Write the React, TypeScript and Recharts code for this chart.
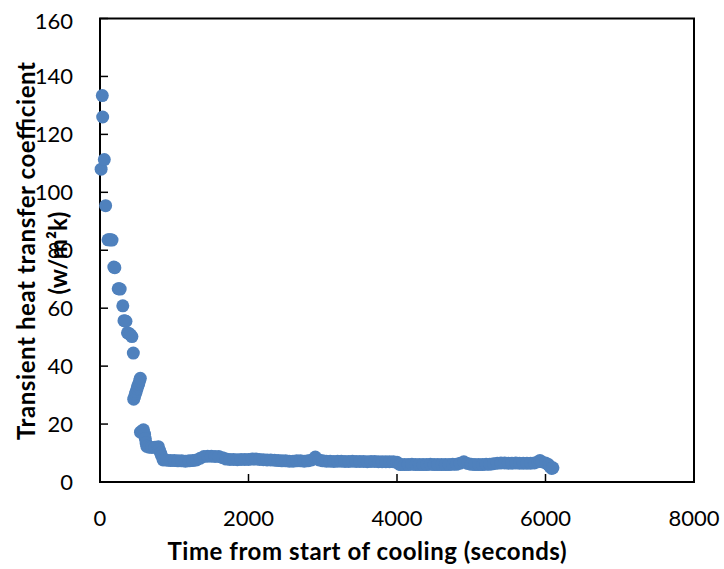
import React from 'react';
import { ScatterChart, Scatter, XAxis, YAxis, ReferenceArea, Customized } from 'recharts';

// time from start of cooling (s) and transient heat transfer coefficient (W/m2K)
const timeSeconds = [
  15, 31, 36, 58, 76, 108, 125, 145, 162, 186, 200, 245, 258, 272, 307, 323, 337, 350,
  370, 390, 410, 430, 449, 454, 466, 477, 488, 499, 510, 521, 532, 543,
  545, 565, 585, 600, 610, 620, 630, 660, 700, 740, 786, 800, 815, 830,
  850, 900, 950, 1000, 1050, 1100, 1150, 1200, 1250, 1300, 1350, 1400, 1450, 1500, 1550,
  1600, 1650, 1700, 1750, 1800, 1850, 1900, 1950, 2000, 2050, 2100, 2150, 2200, 2250,
  2300, 2350, 2400, 2450, 2500, 2550, 2600, 2650, 2700, 2750, 2800, 2850, 2900, 2950,
  3000, 3050, 3100, 3150, 3200, 3250, 3300, 3350, 3400, 3450, 3500, 3550, 3600, 3650,
  3700, 3750, 3800, 3850, 3900, 3950, 4000, 4030, 4050, 4100, 4150, 4200, 4250, 4300,
  4350, 4400, 4450, 4500, 4550, 4600, 4650, 4700, 4750, 4800, 4850, 4900, 4950, 5000,
  5050, 5100, 5150, 5200, 5250, 5300, 5350, 5400, 5450, 5500, 5550, 5600, 5650, 5700,
  5750, 5800, 5850, 5900, 5925, 5950, 6000, 6040, 6060, 6083, 6100,
];
const htc = [
  108, 133.4, 126, 111.3, 95.4, 83.6, 83.6, 83.6, 83.5, 74.2, 74.0, 66.7, 66.7, 66.6, 60.8, 55.7, 55.6, 55.5,
  51.5, 51.3, 50.8, 50.2, 44.5, 28.6, 29.5, 30.5, 31.2, 32.2, 33.1, 33.8, 34.9, 35.8,
  17.2, 17.6, 18.0, 16.5, 15.0, 13.5, 12.3, 12.0, 11.9, 12.0, 12.2, 11.0, 10.0, 9.0,
  7.6, 7.5, 7.4, 7.4, 7.3, 7.3, 7.2, 7.3, 7.4, 7.6, 8.2, 8.8, 8.9, 8.9, 8.8,
  8.8, 8.4, 7.9, 7.8, 7.8, 7.7, 7.8, 7.8, 7.8, 7.9, 7.9, 7.8, 7.7, 7.6,
  7.6, 7.5, 7.4, 7.3, 7.3, 7.2, 7.2, 7.3, 7.3, 7.2, 7.3, 7.6, 8.6, 7.6,
  7.3, 7.2, 7.2, 7.1, 7.2, 7.2, 7.1, 7.1, 7.2, 7.1, 7.1, 7.1, 7.0, 7.1,
  7.1, 7.0, 7.0, 7.0, 7.0, 7.0, 6.8, 6.2, 6.0, 6.0, 6.0, 6.1, 6.0, 6.0,
  6.0, 6.0, 6.1, 6.0, 6.0, 6.0, 6.0, 6.0, 6.1, 6.1, 6.5, 7.0, 6.4, 6.1,
  6.0, 6.0, 6.0, 6.1, 6.1, 6.3, 6.5, 6.6, 6.6, 6.5, 6.5, 6.6, 6.5, 6.5,
  6.5, 6.5, 6.6, 7.0, 7.4, 7.0, 6.6, 6.0, 5.3, 4.7, 4.9,
];
const xTicks = [0, 2000, 4000, 6000, 8000];
const yTicks = [0, 20, 40, 60, 80, 100, 120, 140, 160];

const points = timeSeconds.map((t, i) => ({ t, h: htc[i] }));

const font = 'Lato, "Open Sans", sans-serif';
const blue = '#4F81BD';

const Dot = (props: any) => <circle cx={props.cx} cy={props.cy} r={6.5} fill={blue} />;

// axis titles, placed like the original spreadsheet export
const Titles = () => (
  <g fontFamily={font} fontWeight="bold" fontSize={24} fill="#000">
    <text x={359} y={552} textAnchor="middle" textLength={399} lengthAdjust="spacing">
      Time from start of cooling (seconds)
    </text>
    <text x={17} y={243} transform="rotate(-90, 17, 243)" textAnchor="middle" dominantBaseline="central"
      textLength={378} lengthAdjust="spacing">
      Transient heat transfer coefficient
    </text>
    <text x={49} y={245} transform="rotate(-90, 49, 245)" textAnchor="middle" dominantBaseline="central">
      (w/m²k)
    </text>
  </g>
);

export default function App() {
  // drop the body margin and pad ourselves, so the page box covers the whole 724x569 frame
  React.useLayoutEffect(() => {
    document.body.style.margin = '0';
  }, []);
  return (
    <div style={{ paddingLeft: 8, paddingTop: 8, width: 716, height: 561 }}>
      <ScatterChart width={716} height={561} margin={{ top: 10.5, right: 30, bottom: 0, left: 0 }}>
        <ReferenceArea x1={0} x2={8000} y1={0} y2={160} fill="none" stroke="#000" strokeWidth={2} />
        <XAxis
          type="number"
          dataKey="t"
          domain={[0, 8000]}
          ticks={xTicks}
          height={87}
          tickSize={-8}
          tickMargin={36}
          axisLine={{ stroke: '#000', strokeWidth: 2 }}
          tickLine={{ stroke: '#000', strokeWidth: 1.5 }}
          tick={{ fill: '#000', fontSize: 22, fontFamily: font }}
        />
        <YAxis
          type="number"
          dataKey="h"
          domain={[0, 160]}
          ticks={yTicks}
          width={92}
          tickSize={-8}
          tickMargin={35}
          axisLine={{ stroke: '#000', strokeWidth: 2 }}
          tickLine={{ stroke: '#000', strokeWidth: 1.5 }}
          tick={{ fill: '#000', fontSize: 22, fontFamily: font }}
        />
        <Scatter data={points} shape={Dot} isAnimationActive={false} />
        <Customized component={Titles} />
      </ScatterChart>
    </div>
  );
}
